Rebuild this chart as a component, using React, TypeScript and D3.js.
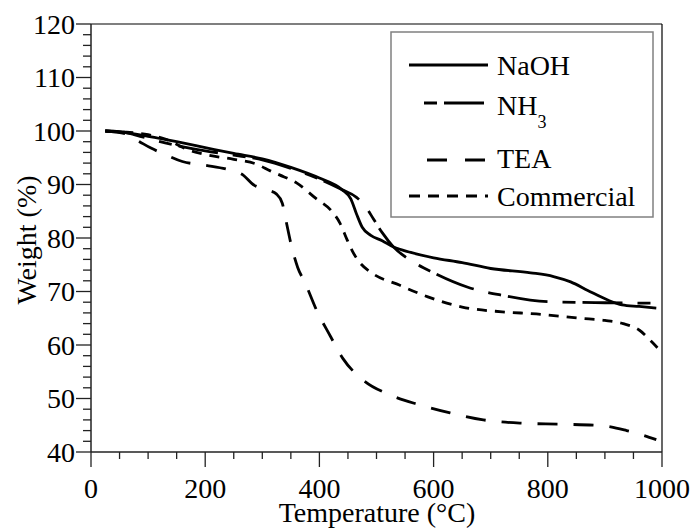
import React from "react";
import * as d3 from "d3";

const xTicks = [0, 200, 400, 600, 800, 1000];
const yTicks = [40, 50, 60, 70, 80, 90, 100, 110, 120];

const naohT = [25, 60, 100, 150, 200, 250, 300, 350, 400, 440, 455, 465, 475, 490, 510, 530, 560, 600, 650, 700, 770, 810, 840, 870, 905, 930, 960, 990];
const naohW = [100, 99.7, 99, 98, 96.9, 95.8, 94.8, 93.2, 91.2, 89, 87.3, 84.5, 82, 80.5, 79.5, 78.3, 77.3, 76.3, 75.4, 74.3, 73.5, 72.8, 71.8, 70.2, 68.4, 67.5, 67.2, 66.9];

const nh3T = [25, 50, 80, 110, 150, 200, 250, 300, 350, 400, 440, 465, 480, 495, 510, 530, 560, 600, 660, 720, 800, 900, 990];
const nh3W = [100, 99.9, 99.2, 98.3, 97.3, 96.3, 95.5, 94.6, 93, 91, 89, 87.6, 86, 83.5, 81, 78.3, 75.8, 73.5, 70.8, 69.3, 68.1, 67.9, 67.8];

const teaT = [25, 60, 85, 105, 130, 160, 200, 243, 266, 284, 308, 325, 335, 342, 350, 362, 375, 395, 420, 441, 476, 523, 576, 629, 687, 751, 820, 886, 910, 938, 965, 990];
const teaW = [100, 99.5, 98, 96.8, 95.6, 94.3, 93.6, 92.7, 91.8, 90, 89, 88.2, 86.5, 83, 79, 74.5, 71.6, 66.5, 61.5, 57.5, 53.5, 50.7, 48.8, 47.3, 46, 45.4, 45.2, 45, 44.7, 44, 43.2, 42.3];

const comT = [25, 60, 100, 130, 170, 200, 250, 290, 315, 330, 360, 395, 420, 436, 448, 458, 470, 490, 540, 590, 650, 720, 780, 856, 900, 932, 960, 982, 992];
const comW = [100, 99.8, 99.3, 98.5, 96.5, 95.6, 94.7, 93.8, 92.5, 91.8, 90.3, 87.3, 85.2, 82.8, 79.8, 77.5, 75.5, 73.6, 71.2, 69, 67.1, 66.2, 65.8, 65, 64.6, 64, 62.8, 60.6, 59.5];

const seriesNames = ["NaOH", "NH3", "TEA", "Commercial"];

export default function App() {
  const x = d3.scaleLinear().domain([0, 1000]).range([91, 662]);
  const y = d3.scaleLinear().domain([40, 120]).range([452, 24]);
  const line = d3
    .line<[number, number]>()
    .x((d) => x(d[0]))
    .y((d) => y(d[1]))
    .curve(d3.curveMonotoneX);

  const series = [
    { name: seriesNames[0], t: naohT, w: naohW, dash: "none", legDash: "none", legOff: 0 },
    { name: seriesNames[1], t: nh3T, w: nh3W, dash: "40 15 13 7", legDash: "40 15 13 7", legOff: 40 },
    { name: seriesNames[2], t: teaT, w: teaW, dash: "20 16", legDash: "20 18", legOff: 20 },
    { name: seriesNames[3], t: comT, w: comW, dash: "10 8", legDash: "11 8", legOff: 0 },
  ];

  const minorX = d3.range(0, 1001, 50);
  const minorY = d3.range(40, 121, 2);
  const font = '"Liberation Serif", "Times New Roman", Times, serif';
  const legY = [65, 103, 160, 196];
  const legBase = [75, 115, 168, 206];
  const txt = { fontFamily: font, fontSize: "28px" };

  return (
    <svg
      width={693}
      height={531}
      style={{ position: "absolute", left: 0, top: 0, background: "#fff", fontFamily: font }}
    >
      <rect x={0} y={0} width={693} height={531} fill="#fff" />
      {/* frame */}
      <line x1={x(0)} x2={x(1000)} y1={y(120)} y2={y(120)} stroke="#000" strokeWidth={1.2} />
      <line x1={x(1000)} x2={x(1000)} y1={y(120)} y2={y(40)} stroke="#000" strokeWidth={1.2} />
      {/* axes */}
      <line x1={x(0)} x2={x(1000)} y1={y(40)} y2={y(40)} stroke="#222" strokeWidth={1.5} />
      <line x1={x(0)} x2={x(0)} y1={y(120)} y2={y(40)} stroke="#222" strokeWidth={1.5} />
      {minorX.map((v) => (
        <line key={"mx" + v} x1={x(v)} x2={x(v)} y1={y(40)} y2={y(40) + (v % 200 === 0 ? 15 : 7)} stroke="#222" strokeWidth={1.3} />
      ))}
      {minorY.map((v) => (
        <line key={"my" + v} x1={x(0) - (v % 10 === 0 ? 15 : 8)} x2={x(0)} y1={y(v)} y2={y(v)} stroke="#222" strokeWidth={1.3} />
      ))}
      {xTicks.map((v) => (
        <text key={"xt" + v} x={x(v)} y={498} style={txt} textAnchor="middle" fill="#000">
          {v}
        </text>
      ))}
      {yTicks.map((v) => (
        <text key={"yt" + v} x={75} y={y(v) + 9.5} style={txt} textAnchor="end" fill="#000">
          {v}
        </text>
      ))}
      <text x={377} y={522} style={txt} textAnchor="middle" fill="#000">
        Temperature (°C)
      </text>
      <text transform={`translate(36,240) rotate(-90)`} style={txt} textAnchor="middle" fill="#000">
        Weight (%)
      </text>
      {/* curves */}
      {series.map((s) => (
        <path
          key={s.name}
          d={line(s.t.map((t, i) => [t, s.w[i]] as [number, number])) || ""}
          fill="none"
          stroke="#000"
          strokeWidth={2.8}
          strokeDasharray={s.dash}
        />
      ))}
      {/* legend */}
      <rect x={391} y={32} width={262} height={185} fill="#fff" stroke="#808080" strokeWidth={1.5} />
      {series.map((s, i) => (
        <g key={"lg" + s.name}>
          <line
            x1={409}
            x2={488}
            y1={legY[i]}
            y2={legY[i]}
            stroke="#000"
            strokeWidth={2.8}
            strokeDasharray={s.legDash}
            strokeDashoffset={s.legOff}
          />
          <text x={497} y={legBase[i]} style={txt} fill="#000">
            {s.name === "NH3" ? (
              <>
                NH
                <tspan style={{ fontSize: "18px" }} dy={13}>
                  3
                </tspan>
              </>
            ) : (
              s.name
            )}
          </text>
        </g>
      ))}
    </svg>
  );
}
